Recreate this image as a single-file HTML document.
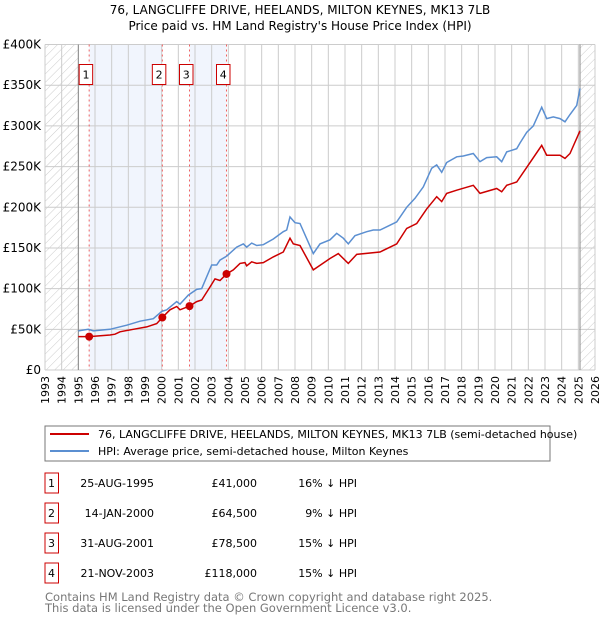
<!DOCTYPE html>
<html><head><meta charset="utf-8"><style>
body{margin:0;background:#fff;font-family:"DejaVu Sans","Liberation Sans",sans-serif;}
svg{display:block}
text{font-family:"DejaVu Sans","Liberation Sans",sans-serif;}
</style></head><body>
<svg id="chart" width="600" height="620">
<defs>
<pattern id="hatch" width="6" height="6" patternUnits="userSpaceOnUse" patternTransform="rotate(45)">
<line x1="0" y1="0" x2="0" y2="6" stroke="#ccc" stroke-width="1"/></pattern>
</defs>
<text x="300" y="14" text-anchor="middle" font-size="12" fill="#000">76, LANGCLIFFE DRIVE, HEELANDS, MILTON KEYNES, MK13 7LB</text>
<text x="300" y="30" text-anchor="middle" font-size="12" fill="#000">Price paid vs. HM Land Registry's House Price Index (HPI)</text>
<g id="plot"></g>
<g>
<rect x="45" y="426" width="505" height="35" fill="#fff" stroke="#777"/>
<line x1="50" y1="434" x2="89" y2="434" stroke="#cc0000" stroke-width="2"/>
<text x="98" y="438" font-size="11" fill="#000">76, LANGCLIFFE DRIVE, HEELANDS, MILTON KEYNES, MK13 7LB (semi-detached house)</text>
<line x1="50" y1="451" x2="89" y2="451" stroke="#5b8fd1" stroke-width="2"/>
<text x="98" y="455" font-size="11" fill="#000">HPI: Average price, semi-detached house, Milton Keynes</text>
</g>
<g id="table"></g>
<text x="45" y="601" font-size="11.5" fill="#777">Contains HM Land Registry data © Crown copyright and database right 2025.</text>
<text x="45" y="612" font-size="11.5" fill="#777">This data is licensed under the Open Government Licence v3.0.</text>
</svg>
<script>
const hpiYears=[1995.0,1995.6,1995.9,1996.9,1997.9,1998.7,1999.5,2000.0,2000.3,2000.9,2001.1,2001.6,2002.1,2002.4,2003.0,2003.3,2003.5,2003.9,2004.5,2004.9,2005.1,2005.4,2005.7,2006.1,2006.7,2007.3,2007.5,2007.7,2008.0,2008.3,2009.1,2009.5,2010.1,2010.5,2010.9,2011.2,2011.6,2012.3,2012.7,2013.1,2013.7,2014.1,2014.7,2015.2,2015.7,2016.2,2016.5,2016.8,2017.1,2017.7,2018.1,2018.7,2019.1,2019.5,2020.1,2020.4,2020.7,2021.3,2021.5,2021.9,2022.3,2022.8,2023.1,2023.5,2023.9,2024.2,2024.5,2024.9,2025.1];
const hpiValues=[48,50,48,50,55,60,63,72,74,84,81,92,99,100,129,129,135,140,151,155,151,156,153,154,161,170,172,188,181,180,143,155,160,168,162,155,165,170,172,172,178,182,200,211,225,248,252,243,255,262,263,266,256,261,262,256,268,272,279,292,300,323,309,311,309,305,314,325,346];
const ppYears=[1995.0,1995.65,1996.9,1997.2,1997.5,1998.3,1999.1,1999.7,2000.04,2000.5,2000.9,2001.1,2001.67,2002.1,2002.4,2002.9,2003.2,2003.5,2003.89,2004.3,2004.7,2005.0,2005.1,2005.4,2005.7,2006.1,2006.7,2007.3,2007.7,2007.9,2008.3,2009.1,2010.1,2010.6,2011.2,2011.7,2013.1,2014.1,2014.7,2015.3,2015.9,2016.5,2016.8,2017.1,2017.7,2018.7,2019.1,2020.1,2020.4,2020.7,2021.3,2021.9,2022.8,2023.1,2023.9,2024.2,2024.5,2025.1];
const ppValues=[41,41,43,44,47,50,53,57,64.5,74,78,74,78.5,84,86,102,112,110,118,123,131,132,128,133,131,132,139,145,162,155,153,123,137,143,131,142,145,155,174,180,198,213,207,217,221,227,217,223,219,227,231,249,276,264,264,260,266,294];
const saleYears=[1995.65,2000.04,2001.67,2003.89];
const saleValues=[41,64.5,78.5,118];
const saleLabels=["1","2","3","4"];
const saleDates=["25-AUG-1995","14-JAN-2000","31-AUG-2001","21-NOV-2003"];
const salePrices=["£41,000","£64,500","£78,500","£118,000"];
const saleDiffs=["16% ↓ HPI","9% ↓ HPI","15% ↓ HPI","15% ↓ HPI"];
const yTicks=[0,50,100,150,200,250,300,350,400];
const yTickLabels=["£0","£50K","£100K","£150K","£200K","£250K","£300K","£350K","£400K"];
const xStart=1993,xEnd=2026;

const NS="http://www.w3.org/2000/svg";
const L=45,R=595,T=44.5,B=370;
const xs=y=>L+(y-xStart)/(xEnd-xStart)*(R-L);
const ys=v=>B-v/400*(B-T);
const plot=document.getElementById('plot');
function mk(tag,attrs,parent){const e=document.createElementNS(NS,tag);for(const k in attrs)e.setAttribute(k,attrs[k]);(parent||plot).appendChild(e);return e;}

let r=mk('rect',{x:L,y:T,width:R-L,height:B-T,fill:'#fff'});


// hatched regions
r=mk('rect',{x:L,y:T,width:xs(1995)-L,height:B-T,fill:'url(#hatch)'});


r=mk('rect',{x:xs(2025.1),y:T,width:R-xs(2025.1),height:B-T,fill:'url(#hatch)'});


// shaded periods
[[0,1],[2,3]].forEach((p,i)=>{
 const s=mk('rect',{x:xs(saleYears[p[0]]),y:T,width:xs(saleYears[p[1]])-xs(saleYears[p[0]]),height:B-T,fill:'#eef3fc',opacity:0.8});
 
 
});
// grid
for(let y=xStart;y<=xEnd;y++){
 const g=mk('line',{x1:xs(y),x2:xs(y),y1:T,y2:B,stroke:'#ccc','stroke-width':1});
 
 
 const t=mk('text',{x:0,y:0,'font-size':11,fill:'#000','text-anchor':'end',transform:`translate(${xs(y)+4},${B+6}) rotate(-90)`});
 t.textContent=String(y);
 
 
}
yTicks.forEach((v,i)=>{
 const g=mk('line',{x1:L,x2:R,y1:ys(v),y2:ys(v),stroke:'#ccc','stroke-width':1});
 
 
 const t=mk('text',{x:L-4,y:ys(v)+4,'font-size':12,fill:'#000','text-anchor':'end'});
 t.textContent=yTickLabels[i];
 
 
});
[1995,2025.1].forEach(y=>{
 const l=mk('line',{x1:xs(y),x2:xs(y),y1:T,y2:B,stroke:'#888','stroke-width':1});
 
 
});
// sale vlines
saleYears.forEach((y,i)=>{
 const l=mk('line',{x1:xs(y),x2:xs(y),y1:T,y2:B,stroke:'#f06060','stroke-width':1,'stroke-dasharray':'2,3'});
 
 
});
const path=(xa,va)=>xa.map((y,i)=>(i?'L':'M')+xs(y).toFixed(1)+','+ys(va[i]).toFixed(1)).join('');
let p=mk('path',{d:path(hpiYears,hpiValues),fill:'none',stroke:'#5b8fd1','stroke-width':1.5});


p=mk('path',{d:path(ppYears,ppValues),fill:'none',stroke:'#cc0000','stroke-width':1.5});


saleYears.forEach((y,i)=>{
 const c=mk('circle',{cx:xs(y),cy:ys(saleValues[i]),r:4,fill:'#cc0000'});
 
 
 const b=mk('rect',{x:xs(y)-10,y:64.5,width:13.5,height:20,fill:'#fff',stroke:'#cc0000'});
 
 
 const t=mk('text',{x:xs(y)-3.2,y:78.5,'font-size':11,'text-anchor':'middle',fill:'#000'});
 t.textContent=saleLabels[i];
 
 
});
const tb=document.getElementById('table');
saleLabels.forEach((s,i)=>{
 const cy=483+i*30;
 const b=mk('rect',{x:45,y:cy-10,width:13.5,height:20,fill:'#fff',stroke:'#cc0000'},tb);
 
 
 const cols=[[51.5,s,'middle'],[154,saleDates[i],'end'],[257,salePrices[i],'end'],[357,saleDiffs[i],'end']];
 cols.forEach((c,j)=>{
  const t=mk('text',{x:c[0],y:cy+4,'font-size':11,'text-anchor':c[2],fill:'#000'},tb);
  t.textContent=c[1];
  
  
 });
});
</script>
</body></html>
